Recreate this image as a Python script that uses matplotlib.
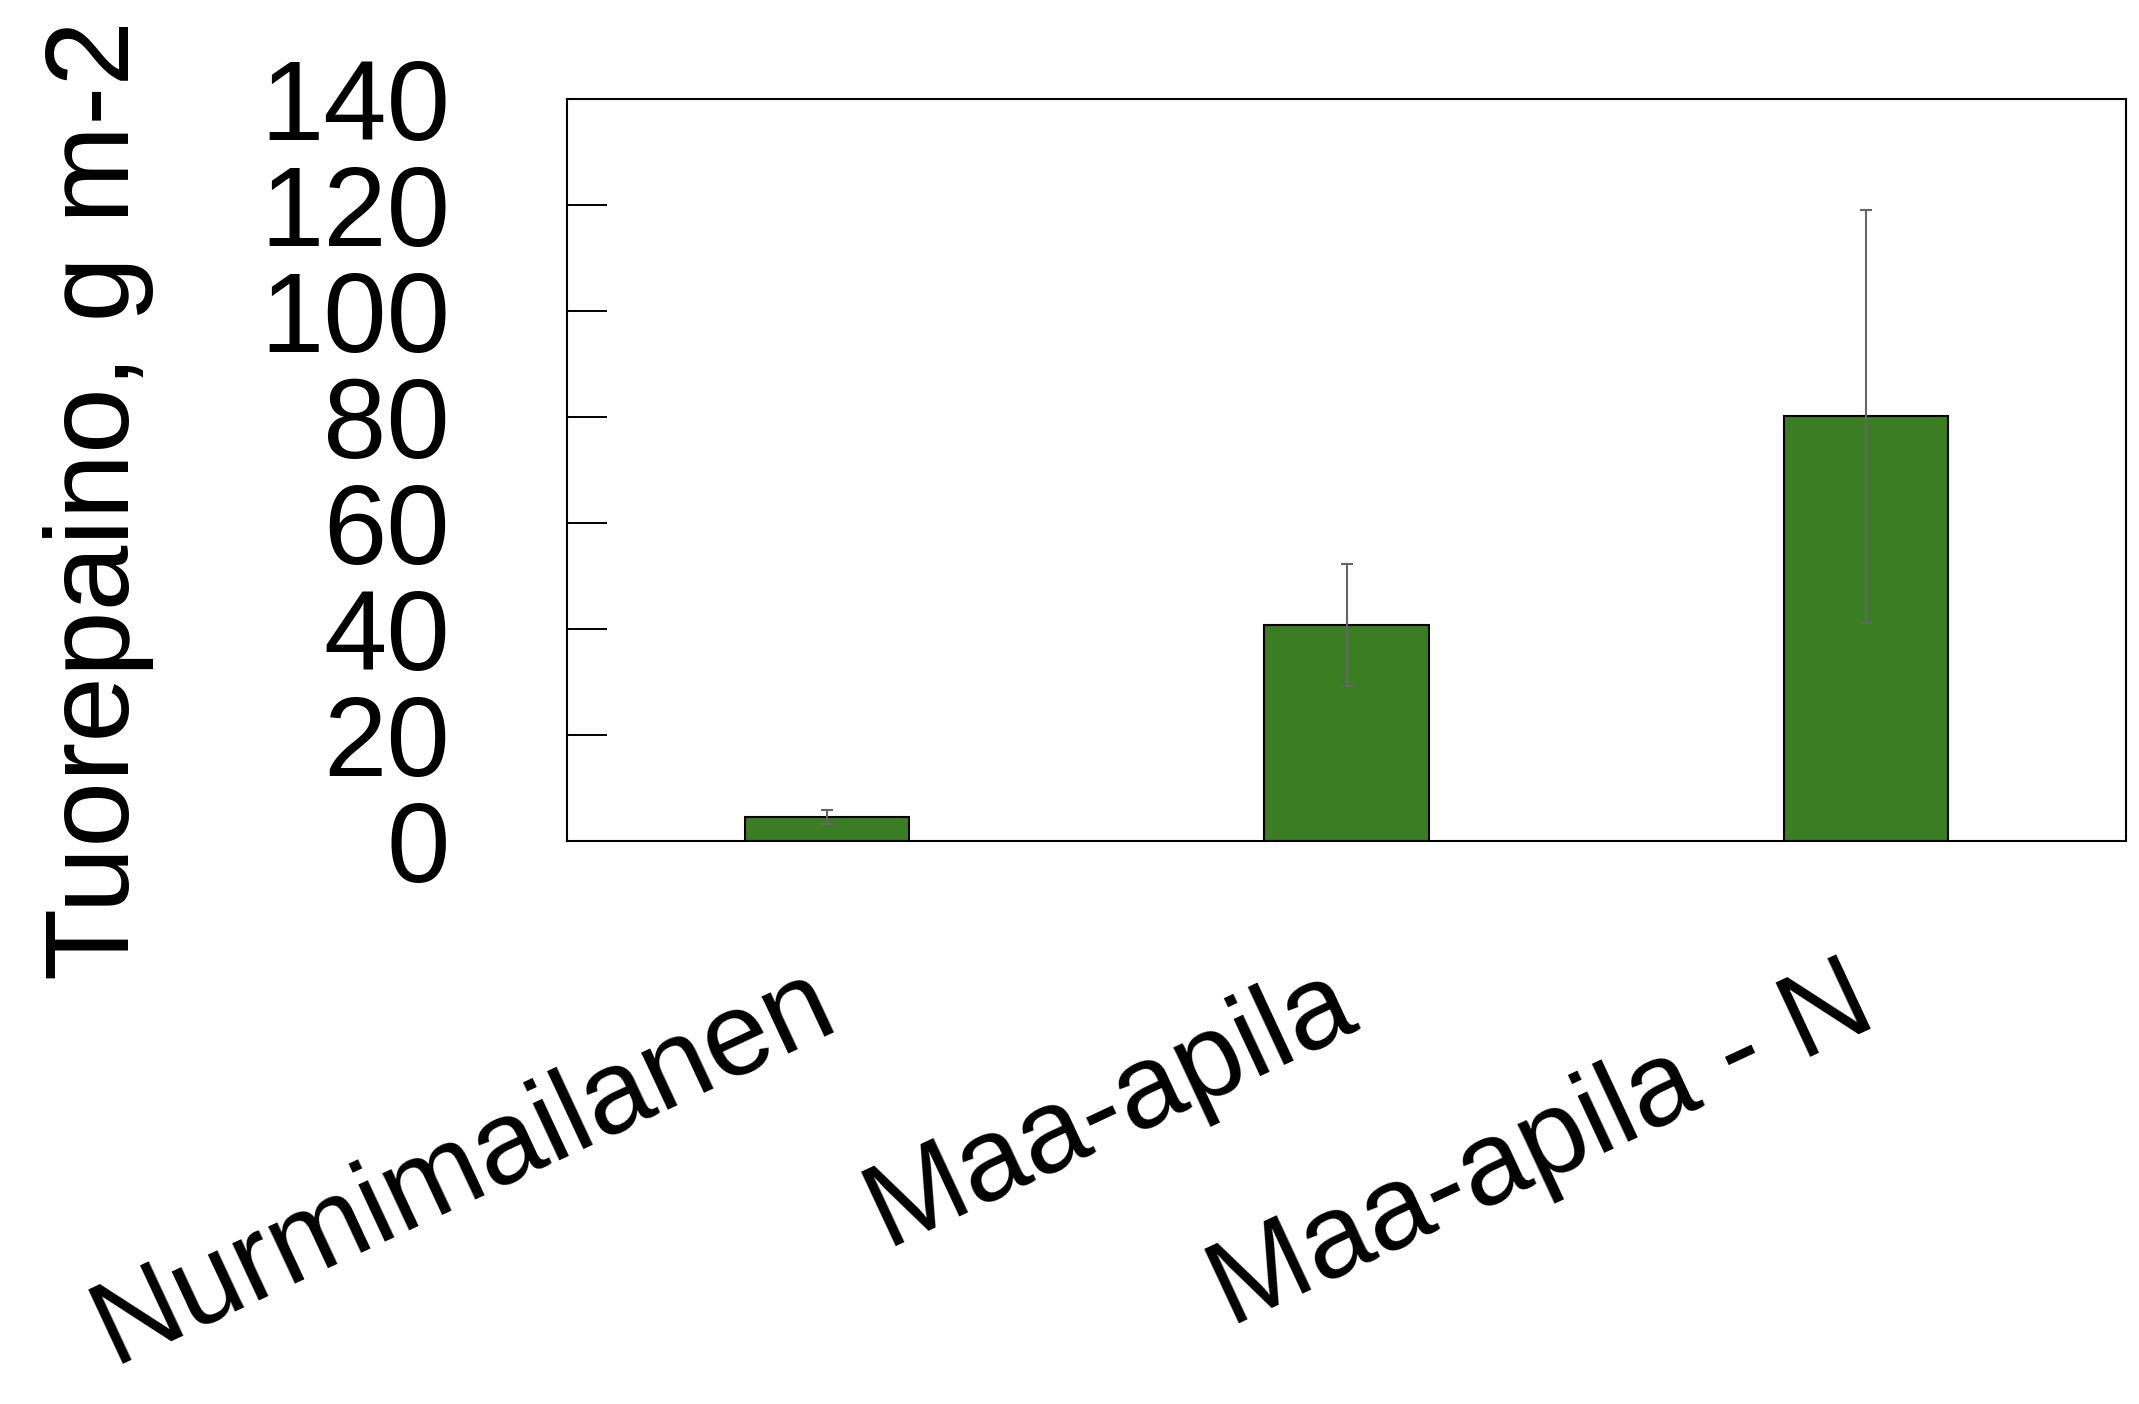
import matplotlib
matplotlib.use('Agg')
import matplotlib.pyplot as plt
from matplotlib.transforms import ScaledTranslation

categories = ['Nurmimailanen', 'Maa-apila', 'Maa-apila - N']
values = [4.5, 40.7, 80.1]
errors = [1.3, 11.5, 39.0]
yticks = [0, 20, 40, 60, 80, 100, 120, 140]

plt.rcParams['font.family'] = ['Liberation Sans', 'DejaVu Sans']

fig = plt.figure(figsize=(21.39, 14.04), dpi=100)
ax = fig.add_axes([0.265, 0.401, 0.729, 0.5285])

x = range(len(categories))
ax.bar(x, values, width=0.316, color='#3B7D23', edgecolor='black', linewidth=1.5,
       yerr=errors, error_kw=dict(ecolor='#666666', elinewidth=1.5, capsize=4.5, capthick=1.5))

ax.set_xlim(-0.5, 2.5)
ax.set_ylim(0, 140)
ax.set_yticks(yticks)
ax.set_yticklabels([str(t) for t in yticks], fontsize=82)
ax.tick_params(axis='y', direction='in', length=29, width=1.4, pad=84)

ax.set_xticks(list(x))
ax.set_xticklabels(categories, fontsize=86, rotation=25, ha='right', rotation_mode='anchor')
ax.tick_params(axis='x', length=0, pad=76)
# nudge the slanted labels a little to the left
shift = ScaledTranslation(-16 / 72, 0, fig.dpi_scale_trans)
for lab in ax.get_xticklabels():
    lab.set_transform(lab.get_transform() + shift)

for s in ax.spines.values():
    s.set_linewidth(1.5)

fig.text(99 / 2139, 1 - 500 / 1404, 'Tuorepaino, g m-2', rotation=90, fontsize=85,
         ha='center', va='center')

fig.savefig('out.png', dpi=100)
